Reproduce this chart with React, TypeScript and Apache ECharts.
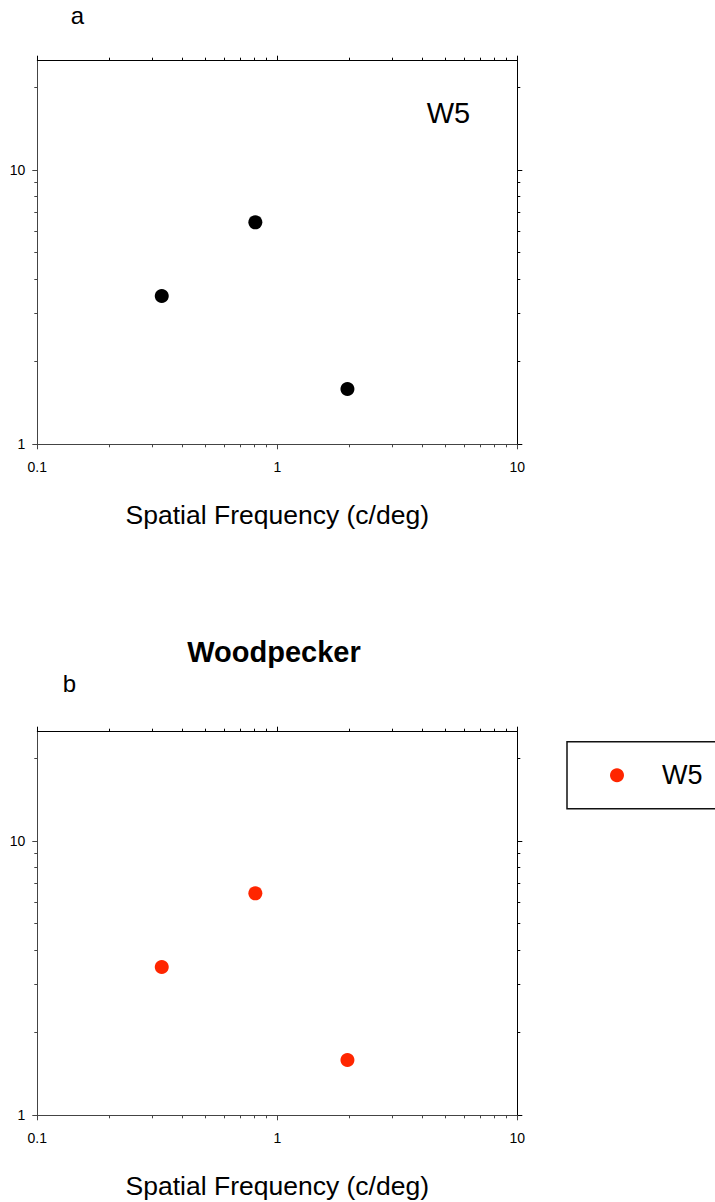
import React, { useEffect, useRef } from "react";
import * as echarts from "echarts";

// Measured threshold per spatial frequency (same data set in both panels)
const FREQUENCIES = [0.33, 0.81, 1.96];
const THRESHOLDS = [3.47, 6.44, 1.59];
const SERIES_NAME = "W5";

// Log-axis ticks
const X_MAJOR = [0.1, 1, 10];
const X_MAJOR_LABELS = ["0.1", "1", "10"];
const X_MINOR = [0.2, 0.3, 0.4, 0.5, 0.6, 0.7, 0.8, 0.9, 2, 3, 4, 5, 6, 7, 8, 9];
const Y_MAJOR = [1, 10];
const Y_MAJOR_LABELS = ["1", "10"];
const Y_MINOR = [2, 3, 4, 5, 6, 7, 8, 9, 20];
const X_RANGE = [0.1, 10];
const Y_RANGE = [1, 25];

const FONT = "'Liberation Sans', Arial, Helvetica, sans-serif";
const GRID_LEFT = 37.3;
const GRID_W = 480;
const GRID_H = 383.6;
const GRID_TOPS = [60.7, 731.7];
const AXIS_DARK = "#000";
const AXIS_GREY = "#444";

function labelFor(values: number[], labels: string[]) {
  return (v: number) => {
    for (let i = 0; i < values.length; i++) {
      if (Math.abs(Math.log10(v) - Math.log10(values[i])) < 1e-6) return labels[i];
    }
    return "";
  };
}

function logAxis(gridIndex: number, range: number[]) {
  return {
    type: "log",
    logBase: 10,
    gridIndex,
    min: range[0],
    max: range[1],
    splitLine: { show: false },
    minorTick: { show: false },
    minorSplitLine: { show: false },
  };
}

function tickAxis(
  gridIndex: number,
  range: number[],
  position: string,
  ticks: number[],
  length: number,
  color: string,
  showLine: boolean,
  label: any
) {
  return {
    ...logAxis(gridIndex, range),
    position,
    axisLine: { show: showLine, onZero: false, lineStyle: { color, width: 1 } },
    axisTick: {
      show: true,
      inside: false,
      length,
      customValues: ticks,
      lineStyle: { color, width: 1 },
    },
    axisLabel: label ? label : { show: false },
  };
}

function buildAxes(g: number) {
  const xLabel = {
    show: true,
    customValues: X_MAJOR,
    formatter: labelFor(X_MAJOR, X_MAJOR_LABELS),
    margin: 16,
    fontSize: 14,
    color: "#000",
    fontFamily: FONT,
  };
  const yLabel = {
    show: true,
    customValues: Y_MAJOR,
    formatter: labelFor(Y_MAJOR, Y_MAJOR_LABELS),
    margin: 12,
    fontSize: 14,
    color: "#000",
    fontFamily: FONT,
  };
  const xAxes = [
    {
      ...tickAxis(g, X_RANGE, "bottom", X_MAJOR, 5, AXIS_GREY, true, xLabel),
      name: "Spatial Frequency (c/deg)",
      nameLocation: "middle",
      nameGap: 57,
      nameTextStyle: { fontSize: 26.5, color: "#000", fontFamily: FONT },
    },
    tickAxis(g, X_RANGE, "bottom", X_MINOR, 3, AXIS_GREY, false, null),
    tickAxis(g, X_RANGE, "top", X_MAJOR, 5, AXIS_DARK, true, null),
    tickAxis(g, X_RANGE, "top", X_MINOR, 3, AXIS_DARK, false, null),
  ];
  const yAxes = [
    tickAxis(g, Y_RANGE, "left", Y_MAJOR, 5, AXIS_GREY, true, yLabel),
    tickAxis(g, Y_RANGE, "left", Y_MINOR, 3, AXIS_GREY, false, null),
    tickAxis(g, Y_RANGE, "right", Y_MAJOR, 5, AXIS_DARK, true, null),
    tickAxis(g, Y_RANGE, "right", Y_MINOR, 3, AXIS_DARK, false, null),
  ];
  return { xAxes, yAxes };
}

function points() {
  return FREQUENCIES.map((f, i) => [f, THRESHOLDS[i]]);
}

function textEl(text: string, x: number, y: number, size: number, align: string, weight = "normal") {
  return {
    type: "text",
    x,
    y,
    silent: true,
    style: {
      text,
      fill: "#000",
      fontSize: size,
      fontFamily: FONT,
      fontWeight: weight,
      align,
      textAlign: align,
      verticalAlign: "middle",
      textVerticalAlign: "middle",
    },
  };
}

export default function App() {
  const ref = useRef<HTMLDivElement>(null);

  useEffect(() => {
    if (!ref.current) return;
    const chart = echarts.init(ref.current, null, { renderer: "svg" });
    const a = buildAxes(0);
    const b = buildAxes(1);

    chart.setOption({
      animation: false,
      backgroundColor: "#fff",
      textStyle: { fontFamily: FONT },
      grid: GRID_TOPS.map((top) => ({
        left: GRID_LEFT,
        top,
        width: GRID_W,
        height: GRID_H,
        containLabel: false,
        outerBoundsMode: "none",
      })),
      xAxis: [...a.xAxes, ...b.xAxes],
      yAxis: [...a.yAxes, ...b.yAxes],
      legend: {
        data: [SERIES_NAME],
        left: 567,
        top: 741.7,
        orient: "vertical",
        icon: "circle",
        itemWidth: 14,
        itemHeight: 14,
        padding: [20, 120, 20, 43],
        borderColor: "#111",
        borderWidth: 1.5,
        selectedMode: false,
        textStyle: {
          fontSize: 27,
          color: "#000",
          fontFamily: FONT,
          padding: [0, 0, 0, 33],
        },
      },
      series: [
        {
          name: "W5 panel a",
          type: "scatter",
          xAxisIndex: 0,
          yAxisIndex: 0,
          symbol: "circle",
          symbolSize: 14,
          itemStyle: { color: "#000", opacity: 1 },
          data: points(),
        },
        {
          name: SERIES_NAME,
          type: "scatter",
          xAxisIndex: 4,
          yAxisIndex: 4,
          symbol: "circle",
          symbolSize: 14,
          itemStyle: { color: "#ff2600", opacity: 1 },
          data: points(),
        },
      ],
      graphic: [
        textEl("a", 70.7, 15.7, 24, "left"),
        textEl("W5", 426.7, 113.3, 29, "left"),
        textEl("Woodpecker", 274, 652.3, 29, "center", "bold"),
        textEl("b", 62.7, 683.4, 24, "left"),
      ],
    });

    return () => chart.dispose();
  }, []);

  return (
    <div
      ref={ref}
      style={{ position: "absolute", left: 0, top: 0, width: 715, height: 1202 }}
    />
  );
}
